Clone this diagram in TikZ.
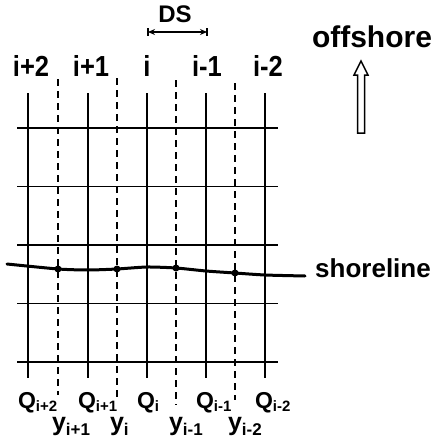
\documentclass[tikz,border=0pt]{standalone}
\usepackage{fontspec}
\setmainfont{Liberation Sans}
\usetikzlibrary{arrows.meta}
\tikzset{
  grid/.style={line width=1.8pt},
  gdash/.style={line width=1.5pt, dash pattern=on 7pt off 5pt},
  shore/.style={line width=3pt, line cap=round},
  ilab/.style={anchor=base, inner sep=0pt, font=\fontsize{29}{30}\selectfont\bfseries},
  qlab/.style={anchor=base, inner sep=0pt, font=\fontsize{23}{24}\selectfont\bfseries},
  ylab/.style={anchor=base, inner sep=0pt, font=\fontsize{25}{26}\selectfont\bfseries},
  wlab/.style={anchor=base, inner sep=0pt},
  dot/.style={circle, fill=black, inner sep=0pt, minimum size=7pt}
}
\newcommand{\qsub}[1]{\rlap{\raisebox{-3pt}{\fontsize{15}{15}\selectfont\bfseries #1}}}
\newcommand{\ysub}[1]{\rlap{\raisebox{-5pt}{\fontsize{17}{17}\selectfont\bfseries #1}}}
\begin{document}
\begin{tikzpicture}[x=1pt, y=-1pt]
\useasboundingbox (0,0) rectangle (436,444);
% horizontal grid lines
\foreach \yy in {128,186.5,245,303.5,362}
  \draw[grid] (17,\yy) -- (278,\yy);
% solid verticals
\foreach \xx in {28,88,147,206,265}
  \draw[grid] (\xx,93) -- (\xx,378);
% dashed verticals
\draw[gdash] (58,79) -- (58,395);
\draw[gdash] (117,78) -- (117,397);
\draw[gdash] (176,80) -- (176,405);
\draw[gdash] (235,83) -- (235,400);
% shoreline
\draw[shore] plot[smooth, tension=0.4] coordinates {(7,264) (58,269) (88,270) (117,269) (147,267) (176,268) (206,271) (235,273) (265,275) (305,276)};
\node[dot] (d1) at (58,269) {};
\node[dot] (d2) at (117,269) {};
\node[dot] (d3) at (176,268) {};
\node[dot] (d4) at (235,273) {};
% top labels
\node[ilab] (l1) at (31,77) {\scalebox{0.88}[1]{i+2}};
\node[ilab] (l2) at (91,77) {\scalebox{0.88}[1]{i+1}};
\node[ilab] (l3) at (147,77) {\scalebox{0.88}[1]{i}};
\node[ilab] (l4) at (207,77) {\scalebox{0.88}[1]{i-1}};
\node[ilab] (l5) at (268,77) {\scalebox{0.88}[1]{i-2}};
% DS
\node[wlab, font=\fontsize{24}{25}\selectfont\bfseries] (ds) at (175,23) {DS};
\coordinate (dsa) at (148,32);
\coordinate (dsb) at (207,32);
\draw[line width=1.6pt, {Stealth[length=7pt,width=6pt]}-{Stealth[length=7pt,width=6pt]}] (dsa) -- (dsb);
\draw[line width=1.6pt] ([yshift=-4pt]dsa) -- ([yshift=4pt]dsa);
\draw[line width=1.6pt] ([yshift=-4pt]dsb) -- ([yshift=4pt]dsb);
% offshore
\node[wlab, font=\fontsize{30}{31}\selectfont\bfseries] (off) at (372,48) {offshore};
\draw[line width=1.5pt, line join=miter]
  (357.5,133) -- (357.5,75) -- (354,75) -- (361,61) -- (368,75) -- (364.5,75) -- (364.5,133) -- cycle;
% shoreline label
\node[wlab, anchor=base west, font=\fontsize{26}{27}\selectfont\bfseries] (sh) at (315,277) {shoreline};
% bottom labels
\node[qlab] (q1) at (27,408) {Q\qsub{i+2}};
\node[qlab] (q2) at (87,408) {Q\qsub{i+1}};
\node[qlab] (q3) at (146,408) {Q\qsub{i}};
\node[qlab] (q4) at (205,408) {Q\qsub{i-1}};
\node[qlab] (q5) at (264,408) {Q\qsub{i-2}};
\node[ylab] (y1) at (59,430) {y\ysub{i+1}};
\node[ylab] (y2) at (117,430) {y\ysub{i}};
\node[ylab] (y3) at (176,430) {y\ysub{i-1}};
\node[ylab] (y4) at (235,430) {y\ysub{i-2}};
\end{tikzpicture}
\end{document}
